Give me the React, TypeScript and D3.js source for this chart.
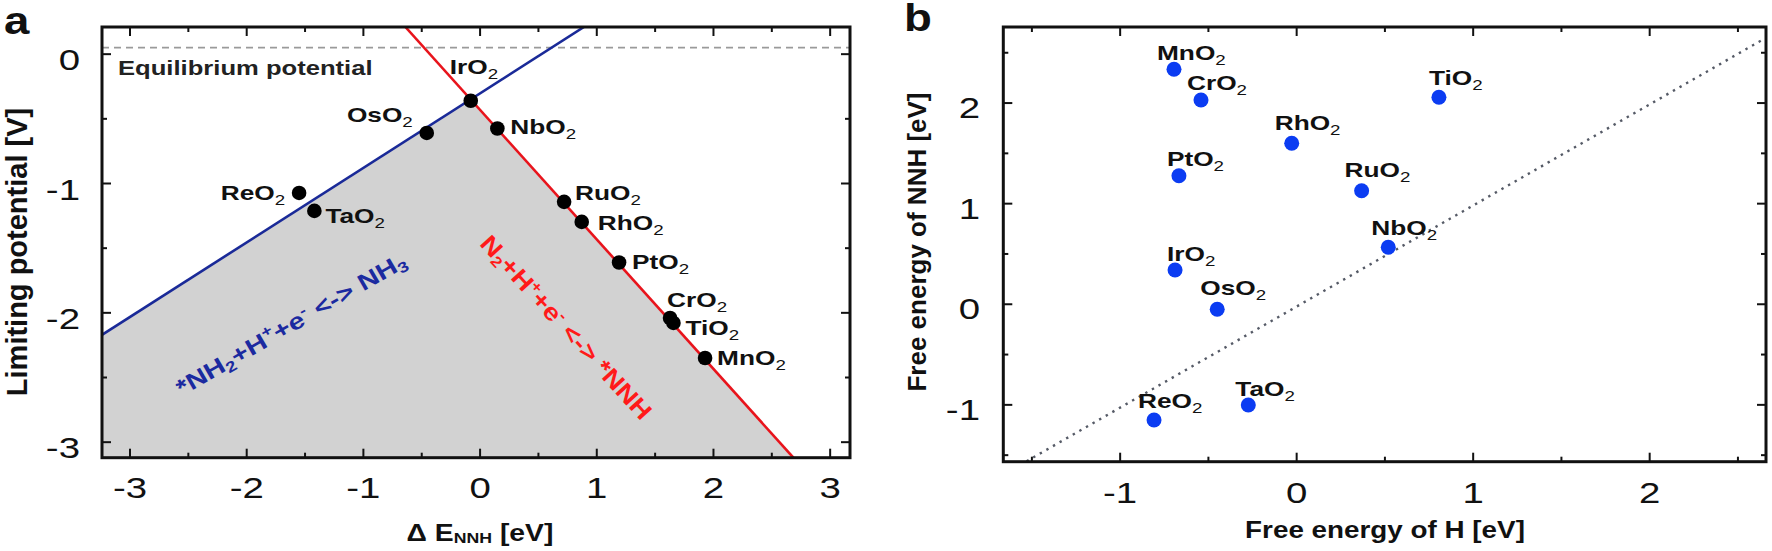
import React from 'react';
import * as d3 from 'd3';

// ---------- Data: panel a ----------
const catsA = ['IrO2', 'OsO2', 'NbO2', 'RuO2', 'RhO2', 'PtO2', 'CrO2', 'TiO2', 'MnO2', 'ReO2', 'TaO2'];
const dENNH = [-0.08, -0.457, 0.148, 0.72, 0.871, 1.191, 1.628, 1.657, 1.928, -1.551, -1.42];
const limPot = [-0.36, -0.609, -0.575, -1.142, -1.297, -1.611, -2.04, -2.078, -2.349, -1.073, -1.212];
const blueLine: [number, number][] = [[-3.24, -2.17], [0.89, 0.21]];
const redLine: [number, number][] = [[-0.64, 0.21], [2.685, -3.12]];
const equilibrium = 0.05;
const xTicksA = [-3, -2, -1, 0, 1, 2, 3];
const yTicksA = [0, -1, -2, -3];
const xMinorA = [-3, -2.5, -2, -1.5, -1, -0.5, 0, 0.5, 1, 1.5, 2, 2.5, 3];
const yMinorA = [0, -0.5, -1, -1.5, -2, -2.5, -3];

// ---------- Data: panel b ----------
const catsB = ['MnO2', 'CrO2', 'RhO2', 'PtO2', 'IrO2', 'TiO2', 'RuO2', 'NbO2', 'OsO2', 'ReO2', 'TaO2'];
const gH = [-0.695, -0.542, -0.028, -0.667, -0.689, 0.806, 0.368, 0.519, -0.45, -0.808, -0.274];
const gNNH = [2.336, 2.031, 1.6, 1.278, 0.341, 2.058, 1.129, 0.567, -0.05, -1.15, -1.001];
const diagLine: [number, number][] = [[-1.53, -1.56], [2.65, 2.64]];
const xTicksB = [-1, 0, 1, 2];
const yTicksB = [-1, 0, 1, 2];
const xMinorB = [-1.5, -1, -0.5, 0, 0.5, 1, 1.5, 2, 2.5];
const yMinorB = [-1.5, -1, -0.5, 0, 0.5, 1, 1.5, 2, 2.5];

// ---------- Layout ----------
const FONT = '"Liberation Sans", Arial, Helvetica, sans-serif';
const SX = 1.25;

const labelOffA: Record<string, [number, number, string]> = {
  IrO2: [-21, -27, 'start'],
  OsO2: [-14, -11, 'end'],
  NbO2: [13, 5, 'start'],
  RuO2: [11, -2, 'start'],
  RhO2: [16, 8, 'start'],
  PtO2: [13, 6, 'start'],
  CrO2: [-3, -11, 'start'],
  TiO2: [12, 12, 'start'],
  MnO2: [12, 7, 'start'],
  ReO2: [-14, 7, 'end'],
  TaO2: [11, 12, 'start'],
};
const labelOffB: Record<string, [number, number]> = {
  MnO2: [-17, -9],
  CrO2: [-14, -10],
  RhO2: [-17, -13],
  PtO2: [-12, -10],
  IrO2: [-8, -9],
  TiO2: [-10, -12],
  RuO2: [-17, -14],
  NbO2: [-17, -12],
  OsO2: [-17, -14],
  ReO2: [-16, -12],
  TaO2: [-13, -9],
};

const xA = d3.scaleLinear().domain([-3.24, 3.17]).range([102, 850]);
const yA = d3.scaleLinear().domain([-3.12, 0.21]).range([457.7, 27]);
const xB = d3.scaleLinear().domain([-1.662, 2.659]).range([1003.3, 1766]);
const yB = d3.scaleLinear().domain([-1.565, 2.756]).range([461.7, 27]);

function HText(props: {
  x: number; y: number; sx?: number; anchor?: string; size: number; weight?: string | number;
  fill?: string; children: React.ReactNode; rotate?: number;
}) {
  const { x, y, sx = SX, anchor = 'start', size, weight = 'bold', fill = '#111', children, rotate = 0 } = props;
  return (
    <text
      transform={`translate(${x},${y}) rotate(${rotate}) scale(${sx},1)`}
      textAnchor={anchor}
      fontSize={size}
      fontWeight={weight}
      fill={fill}
      fontFamily={FONT}
    >
      {children}
    </text>
  );
}

function ChemLabel({ name }: { name: string }) {
  const base = name.replace(/2$/, '');
  return (
    <>
      <tspan>{base}</tspan>
      <tspan fontSize={15} fontWeight="normal" dy={5}>2</tspan>
    </>
  );
}

function lineIntersect(a: [number, number][], b: [number, number][]): [number, number] {
  const m1 = (a[1][1] - a[0][1]) / (a[1][0] - a[0][0]);
  const c1 = a[0][1] - m1 * a[0][0];
  const m2 = (b[1][1] - b[0][1]) / (b[1][0] - b[0][0]);
  const c2 = b[0][1] - m2 * b[0][0];
  const x = (c2 - c1) / (m1 - m2);
  return [x, m1 * x + c1];
}

function Frame({ xs, ys, xMaj, xMin, yMaj, yMin }: any) {
  const [x0, x1] = xs.range();
  const [y0, y1] = ys.range(); // y0 bottom, y1 top
  const ticks: React.ReactNode[] = [];
  const MAJ = 9, MIN = 5;
  xMin.forEach((v: number, i: number) => {
    const px = xs(v);
    if (px <= x0 + 1 || px >= x1 - 1) return;
    const len = xMaj.includes(v) ? MAJ : MIN;
    ticks.push(<line key={`xb${i}`} x1={px} x2={px} y1={y0} y2={y0 - len} />);
    ticks.push(<line key={`xt${i}`} x1={px} x2={px} y1={y1} y2={y1 + len} />);
  });
  yMin.forEach((v: number, i: number) => {
    const py = ys(v);
    if (py >= y0 - 1 || py <= y1 + 1) return;
    const len = yMaj.includes(v) ? MAJ : MIN;
    ticks.push(<line key={`yl${i}`} x1={x0} x2={x0 + len} y1={py} y2={py} />);
    ticks.push(<line key={`yr${i}`} x1={x1} x2={x1 - len} y1={py} y2={py} />);
  });
  return (
    <g stroke="#111" strokeWidth={2}>
      {ticks}
      <rect x={x0} y={y1} width={x1 - x0} height={y0 - y1} fill="none" strokeWidth={3} />
    </g>
  );
}

export default function App() {
  const line = d3.line<[number, number]>();
  const ptsA = (arr: [number, number][]) => arr.map(([a, b]) => [xA(a), yA(b)] as [number, number]);
  const ptsB = (arr: [number, number][]) => arr.map(([a, b]) => [xB(a), yB(b)] as [number, number]);
  const inter = lineIntersect(blueLine, redLine);
  const [dx0, dx1] = xA.domain();
  const [dy0] = yA.domain();
  const mB = (blueLine[1][1] - blueLine[0][1]) / (blueLine[1][0] - blueLine[0][0]);
  const blueAtLeft = blueLine[0][1] + mB * (dx0 - blueLine[0][0]);
  const mR = (redLine[1][1] - redLine[0][1]) / (redLine[1][0] - redLine[0][0]);
  const redAtBottom = redLine[0][0] + (dy0 - redLine[0][1]) / mR;
  const region: [number, number][] = [[dx0, dy0], [dx0, blueAtLeft], inter, [redAtBottom, dy0]];

  return (
    <svg
      width={1772}
      height={551}
      style={{ position: 'absolute', left: 0, top: 0, background: '#fff' }}
      fontFamily={FONT}
    >
      <defs>
        <clipPath id="clipA">
          <rect x={102} y={27} width={748} height={430.7} />
        </clipPath>
        <clipPath id="clipB">
          <rect x={1003.3} y={27} width={762.7} height={434.7} />
        </clipPath>
      </defs>
      <rect x={0} y={0} width={1772} height={551} fill="#fff" />

      {/* ===== Panel a ===== */}
      <HText x={4} y={34} size={38} sx={1.2}>a</HText>
      <g clipPath="url(#clipA)">
        <path d={line(ptsA(region)) + 'Z'} fill="#d2d2d2" />
        <line x1={xA(dx0)} x2={xA(dx1)} y1={yA(equilibrium)} y2={yA(equilibrium)}
          stroke="#9a9a9a" strokeWidth={1.8} strokeDasharray="7 5" />
        <path d={line(ptsA(blueLine)) || ''} stroke="#1a2a98" strokeWidth={2.6} fill="none" />
        <path d={line(ptsA(redLine)) || ''} stroke="#e8141c" strokeWidth={2.6} fill="none" />
      </g>
      <HText x={118} y={75} size={20} sx={1.28} fill="#222">Equilibrium potential</HText>

      {catsA.map((c, i) => (
        <circle key={c} cx={xA(dENNH[i])} cy={yA(limPot[i])} r={7.3} fill="#000" />
      ))}
      {catsA.map((c, i) => {
        const [dx, dy, anc] = labelOffA[c];
        return (
          <HText key={c} x={xA(dENNH[i]) + dx} y={yA(limPot[i]) + dy} size={21} anchor={anc} fill="#111">
            <ChemLabel name={c} />
          </HText>
        );
      })}

      {/* reaction labels */}
      <HText x={295} y={331} size={23} anchor="middle" sx={1.25} rotate={-30} fill="#1b2aa0">
        <tspan>*NH</tspan>
        <tspan fontSize={15} dy={4}>2</tspan>
        <tspan dy={-4}>+H</tspan>
        <tspan fontSize={15} dy={-9}>+</tspan>
        <tspan dy={9}>+e</tspan>
        <tspan fontSize={15} dy={-9}>-</tspan>
        <tspan dy={9}> {'<->'} NH</tspan>
        <tspan fontSize={15} dy={4}>3</tspan>
      </HText>
      <HText x={560} y={333} size={24} anchor="middle" sx={1.15} rotate={47.5} fill="#ff1a1a">
        <tspan>N</tspan>
        <tspan fontSize={15} dy={4}>2</tspan>
        <tspan dy={-4}>+H</tspan>
        <tspan fontSize={15} dy={-9}>+</tspan>
        <tspan dy={9}>+e</tspan>
        <tspan fontSize={15} dy={-9}>-</tspan>
        <tspan dy={9}> {'<->'} *NNH</tspan>
      </HText>

      <Frame xs={xA} ys={yA} xMaj={xTicksA} xMin={xMinorA} yMaj={yTicksA} yMin={yMinorA} />
      {xTicksA.map((v) => (
        <HText key={v} x={xA(v)} y={498} size={30} weight="normal" sx={1.28} anchor="middle">{String(v)}</HText>
      ))}
      {yTicksA.map((v) => (
        <HText key={v} x={80} y={yA(v) + 16} size={30} weight="normal" sx={1.28} anchor="end">{String(v)}</HText>
      ))}
      <HText x={480} y={541} size={24} sx={1.18} anchor="middle">
        <tspan>{'\u0394 E'}</tspan>
        <tspan fontSize={15} dy={2}>NNH</tspan>
        <tspan dy={-2}> [eV]</tspan>
      </HText>
      <text transform="translate(27,252) rotate(-90)" textAnchor="middle" fontSize={29} fontWeight="bold" fill="#111">
        Limiting potential [V]
      </text>

      {/* ===== Panel b ===== */}
      <HText x={904} y={31} size={38} sx={1.2}>b</HText>
      <g clipPath="url(#clipB)">
        <path d={line(ptsB(diagLine)) || ''} stroke="#555a66" strokeWidth={2.4}
          strokeDasharray="2.4 5.2" fill="none" />
      </g>
      {catsB.map((c, i) => (
        <circle key={c} cx={xB(gH[i])} cy={yB(gNNH[i])} r={7.5} fill="#0b3cf2" />
      ))}
      {catsB.map((c, i) => {
        const [dx, dy] = labelOffB[c];
        return (
          <HText key={c} x={xB(gH[i]) + dx} y={yB(gNNH[i]) + dy} size={21} fill="#111">
            <ChemLabel name={c} />
          </HText>
        );
      })}
      <Frame xs={xB} ys={yB} xMaj={xTicksB} xMin={xMinorB} yMaj={yTicksB} yMin={yMinorB} />
      {xTicksB.map((v) => (
        <HText key={v} x={xB(v)} y={503} size={30} weight="normal" sx={1.28} anchor="middle">{String(v)}</HText>
      ))}
      {yTicksB.map((v) => (
        <HText key={v} x={980} y={yB(v) + 15} size={30} weight="normal" sx={1.28} anchor="end">{String(v)}</HText>
      ))}
      <HText x={1385} y={538} size={23} sx={1.21} anchor="middle">Free energy of H [eV]</HText>
      <text transform="translate(926,242) rotate(-90)" textAnchor="middle" fontSize={26} fontWeight="bold" fill="#111">
        Free energy of NNH [eV]
      </text>
    </svg>
  );
}
